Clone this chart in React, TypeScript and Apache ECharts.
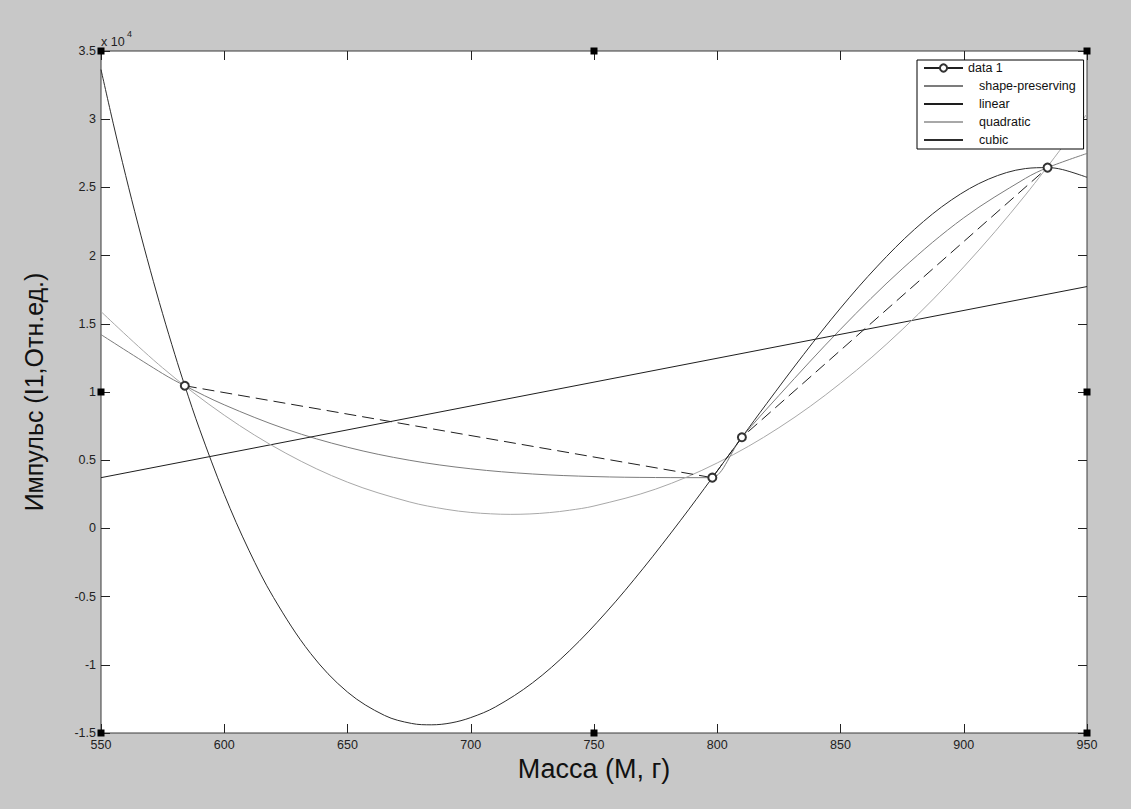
import React, { useEffect, useRef } from "react";
import * as echarts from "echarts";

// ---- data (raw values; axis shows them in units of 10^4) ----
const dataX = [584, 798, 810, 934];
const dataY = [10460, 3720, 6680, 26450];

const pchipX = [550, 575, 584, 600, 625, 650, 675, 700, 725, 750, 775, 798, 801, 804, 807, 810, 825, 850, 875, 900, 925, 934, 950];
const pchipY = [14210, 11350, 10460, 9060, 7280, 5950, 5000, 4370, 3990, 3800, 3730, 3720, 4070, 4890, 5870, 6680, 9740, 14600, 19020, 22770, 25660, 26450, 27490];

const linearX = [550, 950];
const linearY = [3720, 17730];

const quadX = [550, 575, 600, 625, 650, 675, 690, 700, 708, 716, 724, 732, 740, 750, 775, 800, 825, 850, 875, 900, 925, 950];
const quadY = [15900, 11770, 8300, 5510, 3390, 1950, 1400, 1170, 1070, 1030, 1060, 1160, 1330, 1640, 2880, 4800, 7380, 10640, 14570, 19170, 24440, 30390];

const cubicX = [550, 555, 560, 565, 570, 575, 580, 584, 590, 600, 610, 620, 635, 650, 665, 676, 684, 692, 700, 710, 725, 740, 755, 770, 785, 798, 810, 820, 835, 850, 865, 880, 895, 910, 925, 934, 940, 950];
const cubicY = [33640, 29660, 25880, 22310, 18930, 15740, 12730, 10460, 7270, 2500, -1600, -5070, -9160, -12000, -13710, -14300, -14400, -14260, -13870, -13090, -11330, -8980, -6140, -2920, 560, 3720, 6680, 9140, 12740, 16150, 19230, 21920, 24080, 25600, 26380, 26450, 26310, 25740];

const seriesNames = ["data 1", "shape-preserving", "linear", "quadratic", "cubic"];
const xLabel = "Масса (М, г)";
const yLabel = "Импульс (I1,Отн.ед.)";
const xMin = 550, xMax = 950, xStep = 50;
const yMin = -15000, yMax = 35000, yStep = 5000;

const zip = (xs: number[], ys: number[]) => xs.map((x, i) => [x, ys[i]]);

const W = 1131, H = 809;
const G = { left: 101, top: 51, right: 1087, bottom: 733 };
const FONT = "Arial, 'Liberation Sans', sans-serif";
const NOSYM = { color: "rgba(0,0,0,0)", borderColor: "rgba(0,0,0,0)", borderWidth: 0 };

export default function App() {
  const ref = useRef<HTMLDivElement>(null);
  useEffect(() => {
    if (!ref.current) return;
    const chart = echarts.init(ref.current, undefined, { renderer: "svg" });
    const cx = (G.left + G.right) / 2;
    const cy = (G.top + G.bottom) / 2;
    const handles: any[] = [];
    [G.left, cx, G.right].forEach((hx) =>
      [G.top, cy, G.bottom].forEach((hy) => {
        if (hx === cx && hy === cy) return;
        handles.push({
          type: "rect",
          shape: { x: hx - 3.5, y: hy - 3.5, width: 7, height: 7 },
          style: { fill: "#000" },
          z: 100,
        });
      })
    );
    const lineCommon = { type: "line", smooth: 0.35, symbol: "none", showSymbol: false, z: 3 };
    const tick = { inside: true, length: 9, lineStyle: { color: "#222" } };
    const option: any = {
      animation: false,
      backgroundColor: "#c8c8c8",
      textStyle: { fontFamily: FONT },
      grid: {
        left: G.left,
        top: G.top,
        right: W - G.right,
        bottom: H - G.bottom,
        show: true,
        backgroundColor: "#ffffff",
        borderColor: "#3a3a3a",
        borderWidth: 1,
      },
      legend: {
        orient: "vertical",
        left: 917,
        top: 60,
        backgroundColor: "#ffffff",
        borderColor: "#000",
        borderWidth: 1,
        borderRadius: 0,
        padding: [1, 8, 2, 6],
        itemWidth: 39,
        itemHeight: 9,
        itemGap: 4,
        textStyle: {
          fontSize: 12.5,
          lineHeight: 14,
          color: "#111",
          fontFamily: FONT,
          rich: { p: { padding: [0, 0, 0, 11], fontSize: 12.5, lineHeight: 14, color: "#111", fontFamily: FONT } },
        },
        formatter: (n: string) => (n === "data 1" ? n : "{p|" + n + "}"),
        data: [
          { name: "data 1", lineStyle: { type: "solid" } },
          { name: "shape-preserving", itemStyle: NOSYM },
          { name: "linear", itemStyle: NOSYM },
          { name: "quadratic", itemStyle: NOSYM },
          { name: "cubic", itemStyle: NOSYM },
        ],
      },
      xAxis: [
        {
          type: "value",
          min: xMin,
          max: xMax,
          interval: xStep,
          name: xLabel,
          nameLocation: "middle",
          nameGap: 17,
          nameTextStyle: { fontSize: 27, color: "#111", fontFamily: FONT },
          axisLine: { show: false, onZero: false },
          axisTick: tick,
          axisLabel: { margin: 5, fontSize: 12.5, color: "#222", fontFamily: FONT },
          splitLine: { show: false },
        },
        {
          type: "value",
          position: "top",
          min: xMin,
          max: xMax,
          interval: xStep,
          axisLine: { show: false, onZero: false },
          axisTick: tick,
          axisLabel: { show: false },
          splitLine: { show: false },
        },
      ],
      yAxis: [
        {
          type: "value",
          min: yMin,
          max: yMax,
          interval: yStep,
          name: yLabel,
          nameLocation: "middle",
          nameGap: 55,
          nameTextStyle: { fontSize: 25, color: "#111", fontFamily: FONT },
          axisLine: { show: false, onZero: false },
          axisTick: tick,
          axisLabel: {
            margin: 5,
            fontSize: 12.5,
            color: "#222",
            fontFamily: FONT,
            formatter: (v: number) => String(Math.round(v / 1000) / 10),
          },
          splitLine: { show: false },
        },
        {
          type: "value",
          position: "right",
          min: yMin,
          max: yMax,
          interval: yStep,
          axisLine: { show: false, onZero: false },
          axisTick: tick,
          axisLabel: { show: false },
          splitLine: { show: false },
        },
      ],
      series: [
        {
          name: seriesNames[0],
          type: "line",
          data: zip(dataX, dataY),
          symbol: "emptyCircle",
          symbolSize: 8,
          lineStyle: { type: [12, 6], width: 1, color: "#202020" },
          itemStyle: { color: "#333", borderWidth: 0.9 },
          z: 5,
        },
        { ...lineCommon, name: seriesNames[1], data: zip(pchipX, pchipY), lineStyle: { width: 1, color: "#7c7c7c" }, itemStyle: { color: "#7c7c7c" } },
        { ...lineCommon, name: seriesNames[2], data: zip(linearX, linearY), smooth: false, lineStyle: { width: 1, color: "#1e1e1e" }, itemStyle: { color: "#1e1e1e" } },
        { ...lineCommon, name: seriesNames[3], data: zip(quadX, quadY), lineStyle: { width: 1, color: "#a8a8a8" }, itemStyle: { color: "#a8a8a8" } },
        { ...lineCommon, name: seriesNames[4], data: zip(cubicX, cubicY), lineStyle: { width: 1, color: "#2c2c2c" }, itemStyle: { color: "#2c2c2c" } },
      ],
      graphic: [
        ...handles,
        { type: "text", left: 101, top: 35, style: { text: "x 10", fontSize: 12.5, fill: "#222", fontFamily: FONT }, z: 100 },
        { type: "text", left: 127, top: 29, style: { text: "4", fontSize: 9, fill: "#222", fontFamily: FONT }, z: 100 },
      ],
    };
    chart.setOption(option);
    return () => chart.dispose();
  }, []);
  return (
    <div
      ref={ref}
      style={{ position: "fixed", left: 0, top: 0, width: W + "px", height: H + "px" }}
    />
  );
}
